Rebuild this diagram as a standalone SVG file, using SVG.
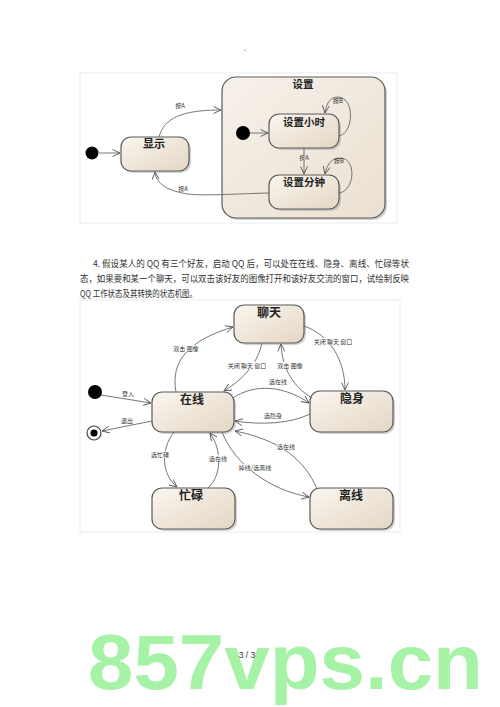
<svg xmlns="http://www.w3.org/2000/svg" width="500" height="707" viewBox="0 0 500 707">
<defs>
<linearGradient id="g" x1="0" y1="0" x2="1" y2="1">
<stop offset="0" stop-color="#faf6f0"/>
<stop offset="1" stop-color="#e4d6c3"/>
</linearGradient>
<linearGradient id="gc" x1="0" y1="0" x2="1" y2="1">
<stop offset="0" stop-color="#f6f1ea"/>
<stop offset="1" stop-color="#ebe0d1"/>
</linearGradient>
<marker id="a" markerWidth="9" markerHeight="8" refX="8" refY="4" orient="auto" markerUnits="userSpaceOnUse">
<path d="M0.5,0.5 L8,4 L0.5,7.5" fill="none" stroke="#555" stroke-width="0.9"/>
</marker>
</defs>
<style>
.st{fill:url(#g);stroke:#5a5a5a;stroke-width:1.2}
.sh{fill:#9a9a9a;opacity:.45}
.nm{font-family:"Noto Sans CJK SC","Liberation Sans",sans-serif;font-weight:bold;fill:#222;text-anchor:middle}
.lb{font-family:"Noto Sans CJK SC","Liberation Sans",sans-serif;font-size:6px;fill:#333;text-anchor:middle}
.e{fill:none;stroke:#666;stroke-width:0.9;marker-end:url(#a)}
.bg{fill:#fff}
.tx{font-family:"Noto Sans CJK SC","Liberation Sans",sans-serif;font-size:9.2px;fill:#333}
</style>
<rect width="500" height="707" fill="#fff"/>
<circle cx="245" cy="50" r="0.8" fill="#999"/>

<!-- Diagram 1 frame -->
<rect x="80" y="73" width="317" height="150" fill="#fff" stroke="#ececec" stroke-width="1"/>

<g id="composite-settings">
<rect x="224" y="79" width="163" height="141" rx="14" class="sh"/>
<rect x="222" y="77" width="163" height="141" rx="14" fill="url(#gc)" stroke="#5a5a5a" stroke-width="1.2"/>
<text x="303" y="88" class="nm" font-size="10.5">设置</text>
</g>
<g id="init1"><circle cx="92" cy="153" r="6.5" fill="#000"/></g>
<g id="show">
<rect x="123" y="139" width="68" height="34" rx="10" class="sh"/>
<rect x="121" y="137" width="68" height="34" rx="10" class="st"/>
<text x="154" y="148" class="nm" font-size="11">显示</text>
</g>
<g id="init2"><circle cx="243" cy="133" r="7" fill="#000"/></g>
<g id="set-hour">
<rect x="271" y="116" width="70" height="34" rx="10" class="sh"/>
<rect x="269" y="114" width="70" height="34" rx="10" class="st"/>
<text x="304" y="126" class="nm" font-size="10.5">设置小时</text>
</g>
<g id="set-minute">
<rect x="271" y="177" width="70" height="34" rx="10" class="sh"/>
<rect x="269" y="175" width="70" height="34" rx="10" class="st"/>
<text x="304" y="186" class="nm" font-size="10.5">设置分钟</text>
</g>

<g id="connectors1">
<path class="e" d="M99,153 L120,153"/>
<path class="e" d="M250,133 L268,133"/>
<path class="e" d="M304,148 L304,174"/>
<path class="e" d="M339,136 C353,134 356,98 338,97 C330,97 326,104 325,113"/>
<path class="e" d="M339,193 C355,191 357,158 340,158 C331,158 327,165 325,174"/>
<path class="e" d="M159,137 C164,118 182,110 221,110"/>
<path class="e" d="M269,193 C230,194 205,196 188,194 C168,191 156,184 155,172"/>
<rect x="298" y="155" width="12" height="6" fill="#f3ede5"/>
<text x="304" y="160" class="lb" font-size="5.5">按A</text>
<text x="338" y="103" class="lb" font-size="5.5">按B</text>
<text x="339" y="163" class="lb" font-size="5.5">按B</text>
<text x="180" y="108" class="lb" font-size="5.5">按A</text>
<text x="183" y="191" class="lb" font-size="5.5">按A</text>
</g>

<!-- paragraph -->
<text class="tx" x="93" y="267" textLength="316" lengthAdjust="spacingAndGlyphs">4. 假设某人的 QQ 有三个好友，启动 QQ 后，可以处在在线、隐身、离线、忙碌等状</text>
<text class="tx" x="80" y="282" textLength="329" lengthAdjust="spacingAndGlyphs">态，如果要和某一个聊天，可以双击该好友的图像打开和该好友交流的窗口，试绘制反映</text>
<text class="tx" x="80" y="297" textLength="117" lengthAdjust="spacingAndGlyphs">QQ 工作状态及其转换的状态机图。</text>

<!-- Diagram 2 frame -->
<rect x="80" y="300" width="320" height="232" fill="#fff" stroke="#ececec" stroke-width="1"/>

<g id="chat">
<rect x="236" y="307" width="70" height="38" rx="10" class="sh"/>
<rect x="234" y="305" width="70" height="38" rx="10" class="st"/>
<text x="269" y="317" class="nm" font-size="12">聊天</text>
</g>
<g id="online">
<rect x="154" y="394" width="82" height="40" rx="10" class="sh"/>
<rect x="152" y="392" width="82" height="40" rx="10" class="st"/>
<text x="192" y="404" class="nm" font-size="12">在线</text>
</g>
<g id="invisible">
<rect x="312" y="393" width="83" height="41" rx="10" class="sh"/>
<rect x="310" y="391" width="83" height="41" rx="10" class="st"/>
<text x="352" y="403" class="nm" font-size="12">隐身</text>
</g>
<g id="busy">
<rect x="154" y="490" width="83" height="41" rx="10" class="sh"/>
<rect x="152" y="488" width="83" height="41" rx="10" class="st"/>
<text x="191" y="500" class="nm" font-size="12">忙碌</text>
</g>
<g id="offline">
<rect x="312" y="490" width="83" height="41" rx="10" class="sh"/>
<rect x="310" y="488" width="83" height="41" rx="10" class="st"/>
<text x="351" y="500" class="nm" font-size="12">离线</text>
</g>
<g id="init3"><circle cx="95" cy="392" r="7" fill="#000"/></g>
<g id="final">
<circle cx="94" cy="433" r="7" fill="#fff" stroke="#444" stroke-width="1.2"/>
<circle cx="94" cy="433" r="3.5" fill="#000"/>
</g>

<g id="connectors2">
<path class="e" d="M101,395 L151,403"/>
<path class="e" d="M152,421 L102,431"/>
<path class="e" d="M176,392 C170,360 190,340 233,327"/>
<path class="e" d="M262,343 C258,362 245,378 224,391"/>
<path class="e" d="M312,398 C295,388 282,370 281,344"/>
<path class="e" d="M304,326 C330,335 345,360 345,390"/>
<path class="e" d="M233,398 C255,383 285,386 309,403"/>
<path class="e" d="M310,414 C290,424 260,425 235,421"/>
<path class="e" d="M174,432 C160,450 162,475 177,487"/>
<path class="e" d="M208,488 C222,475 222,450 210,433"/>
<path class="e" d="M222,432 C235,465 270,490 309,497"/>
<path class="e" d="M317,489 C305,460 280,440 235,431"/>

<text x="128" y="396" class="lb">登入</text>
<rect x="119" y="417" width="16" height="7" class="bg"/>
<text x="127" y="423" class="lb">退出</text>
<rect x="175" y="345" width="23" height="7" class="bg"/>
<text x="186" y="351" class="lb">双击 图像</text>
<rect x="230" y="362" width="34" height="7" class="bg"/>
<text x="247" y="368" class="lb">关闭 聊天 窗口</text>
<rect x="278" y="362" width="23" height="7" class="bg"/>
<text x="290" y="368" class="lb">双击 图像</text>
<rect x="316" y="338" width="34" height="7" class="bg"/>
<text x="333" y="344" class="lb">关闭 聊天 窗口</text>
<text x="278" y="384" class="lb">选在线</text>
<text x="273" y="418" class="lb">选隐身</text>
<rect x="151" y="451" width="18" height="7" class="bg"/>
<text x="160" y="457" class="lb">选忙碌</text>
<rect x="209" y="455" width="18" height="7" class="bg"/>
<text x="218" y="461" class="lb">选在线</text>
<rect x="241" y="464" width="28" height="7" class="bg"/>
<text x="255" y="470" class="lb">掉线/选离线</text>
<rect x="277" y="443" width="18" height="7" class="bg"/>
<text x="286" y="449" class="lb">选在线</text>
</g>

<!-- watermark -->
<text x="88" y="689" font-family="'Liberation Sans',sans-serif" font-weight="bold" font-size="78" fill="#a6f2a6" textLength="395" lengthAdjust="spacingAndGlyphs">857vps.cn</text>
<text x="247" y="658" font-family="'Liberation Sans',sans-serif" font-size="8.5" fill="#333" text-anchor="middle">3 / 3</text>
</svg>
